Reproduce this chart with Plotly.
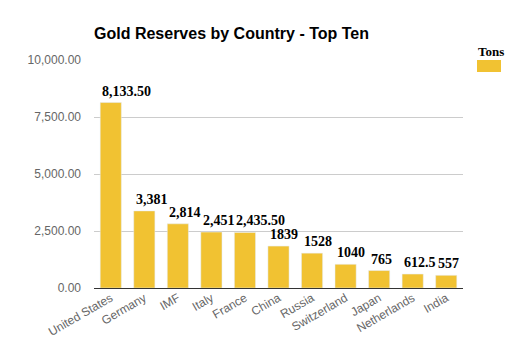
import plotly.graph_objects as go

countries = ["United States", "Germany", "IMF", "Italy", "France", "China",
             "Russia", "Switzerland", "Japan", "Netherlands", "India"]
tons = [8133.5, 3381, 2814, 2451, 2435.5, 1839, 1528, 1040, 765, 612.5, 557]
labels = ["8,133.50", "3,381", "2,814", "2,451", "2,435.50", "1839",
          "1528", "1040", "765", "612.5", "557"]
y_ticks = [0, 2500, 5000, 7500, 10000]

GOLD = "#F1C232"

fig = go.Figure()
fig.add_trace(go.Bar(
    x=countries, y=tons, name="Tons", marker_color=GOLD,
    showlegend=False,
))

# data labels, left-aligned with each bar's left edge
for c, v, t in zip(countries, tons, labels):
    fig.add_annotation(x=c, y=v, text="<b>" + t + "</b>", showarrow=False,
                       xanchor="left", yanchor="bottom", xshift=-10.5, yshift=2,
                       font=dict(family="Liberation Serif, Times New Roman, serif",
                                 size=14, color="#000000"))

fig.update_layout(
    width=524, height=352,
    margin=dict(l=94, r=61, t=60, b=64),
    paper_bgcolor="white", plot_bgcolor="white",
    bargap=0.37,
    title=dict(text="<b>Gold Reserves by Country - Top Ten</b>",
               x=94/524, xanchor="left", y=1-33/352, yanchor="middle",
               font=dict(family="Liberation Sans, Arial, sans-serif", size=16, color="#000000")),
    font=dict(family="Liberation Sans, Arial, sans-serif", size=12, color="#555555"),
)
fig.update_yaxes(range=[0, 10000], tickvals=y_ticks, tickformat=",.2f",
                 showgrid=True, gridcolor="#CCCCCC", gridwidth=1,
                 zeroline=True, zerolinecolor="#333333", zerolinewidth=1,
                 ticks="", ticklabelstandoff=12,
                 tickfont=dict(size=12, color="#666666"))
fig.update_xaxes(tickangle=-30, showline=False, ticks="",
                 tickfont=dict(size=12, color="#666666"))

# legend drawn manually
fig.add_annotation(text="<b>Tons</b>", xref="paper", yref="paper",
                   x=(476-94)/369, y=(288-51)/228, xanchor="left", yanchor="middle",
                   showarrow=False,
                   font=dict(family="Liberation Serif, Times New Roman, serif", size=13, color="#000000"))
fig.add_shape(type="rect", xref="paper", yref="paper",
              x0=(477-94)/369, x1=(501-94)/369, y0=(288-72)/228, y1=(288-60)/228,
              fillcolor=GOLD, line=dict(width=0))

fig.write_html("out.html")
